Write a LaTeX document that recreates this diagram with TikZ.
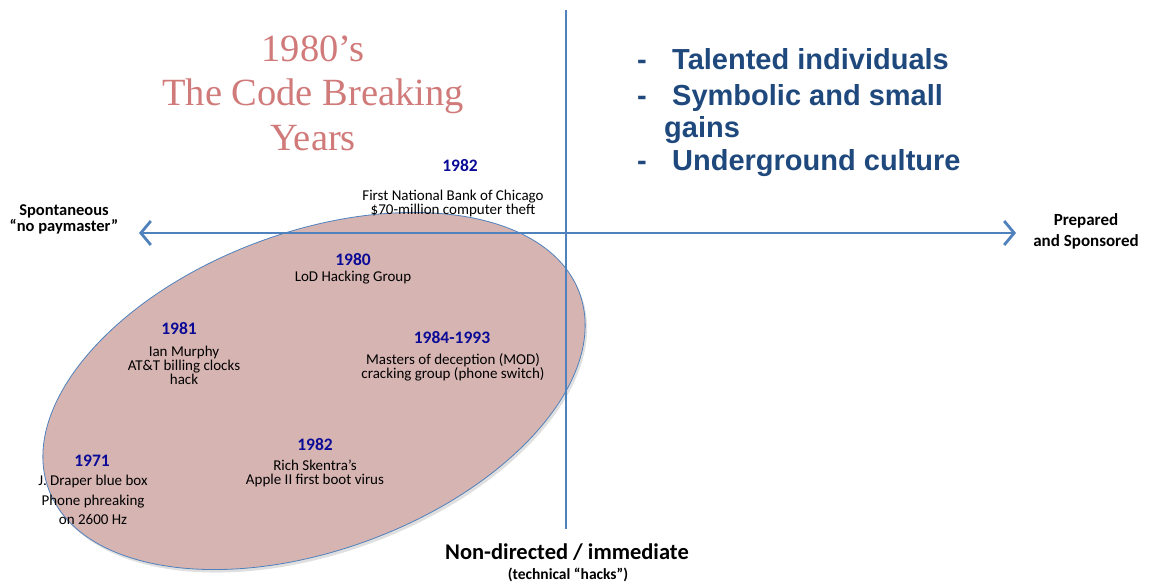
\documentclass[tikz,border=0pt]{standalone}
\usepackage{fontspec}
\setmainfont{Carlito}
\newfontfamily\titlefont{Liberation Serif}
\newfontfamily\listfont{Liberation Sans}
\usepackage{tikz}
\usetikzlibrary{shapes.geometric, arrows.meta, shadows}

\begin{document}
\begin{tikzpicture}[x=1pt, y=-1pt,
    axis/.style={line width=2.8pt, draw=axisBlue, {Straight Barb[length=10pt,width=24pt]}-{Straight Barb[length=10pt,width=24pt]}},
    year/.style={font=\bfseries\fontsize{17.5}{19}\selectfont, text=yearBlue, inner sep=0pt},
    event/.style={font=\fontsize{15}{14}\selectfont, align=center, inner sep=0pt},
    pole/.style={font=\bfseries\fontsize{17}{21}\selectfont, align=center, inner sep=0pt},
    bullet/.style={font=\listfont\bfseries\fontsize{29}{33}\selectfont, text=listBlue, anchor=base west, inner sep=0pt}]
    % colours
    \definecolor{axisBlue}{RGB}{79,129,189}
    \definecolor{eraRose}{RGB}{214,180,178}
    \definecolor{titleRose}{RGB}{208,122,122}
    \definecolor{listBlue}{RGB}{31,73,125}
    \definecolor{yearBlue}{RGB}{10,10,150}

    \useasboundingbox (0,0) rectangle (1159,586);

    % era ellipse (under the axes)
    \node[ellipse, draw=axisBlue, line width=0.8pt, fill=eraRose,
          minimum width=566pt, minimum height=318pt, rotate=20.3,
          drop shadow={opacity=0.25, shadow xshift=2pt, shadow yshift=-3pt}] (era) at (314,391) {};

    % axes
    \coordinate (top) at (566,10);
    \coordinate (bottom) at (566,529);
    \coordinate (left) at (139,233);
    \coordinate (right) at (1016,233);
    \draw[axis, {-}] (top) -- (bottom);
    \draw[axis] (left) -- (right);

    % title
    \node[font=\titlefont\fontsize{38.5}{44.5}\selectfont, text=titleRose, align=center] (title) at (313,93)
        {1980’s\\The Code Breaking\\Years};

    % features
    \node[bullet] (dashA) at (637,70) {-};
    \node[bullet] (featA) at (672,70) {Talented individuals};
    \node[bullet] (dashB) at (637,105) {-};
    \node[bullet] (featB) at (672,105) {Symbolic and small};
    \node[bullet] (featC) at (664,137) {gains};
    \node[bullet] (dashD) at (637,170) {-};
    \node[bullet] (featD) at (672,170) {Underground culture};

    % poles
    \node[pole, font=\bfseries\fontsize{16.5}{11}\selectfont] (spont) at (64,219) {Spontaneous\\\textquotedblleft no paymaster\textquotedblright};
    \node[pole] (prep) at (1086,231) {Prepared\\and Sponsored};
    \node[font=\bfseries\fontsize{22.5}{24}\selectfont, inner sep=0pt] (nondir) at (567,552) {Non-directed / immediate};
    \node[font=\bfseries\fontsize{15.5}{16}\selectfont, inner sep=0pt] (hacks) at (568,575) {(technical \textquotedblleft hacks\textquotedblright)};

    % events
    \node[year] (y1982a) at (460,166) {1982};
    \node[event] (chicago) at (453,203) {First National Bank of Chicago\\\$70-million computer theft};
    \node[year] (y1980) at (353,260) {1980};
    \node[event] (lod) at (353,278) {LoD Hacking Group};
    \node[year] (y1981) at (179,329) {1981};
    \node[event] (murphy) at (184,365) {Ian Murphy\\AT\&T billing clocks\\hack};
    \node[year] (y1984) at (452,338) {1984-1993};
    \node[event] (mod) at (453,367) {Masters of deception (MOD)\\cracking group (phone switch)};
    \node[year] (y1982b) at (315,445) {1982};
    \node[event] (skrenta) at (315,473) {Rich Skentra’s\\Apple II first boot virus};
    \node[year] (y1971) at (92,461) {1971};
    \node[event, font=\fontsize{15}{19.5}\selectfont] (draper) at (93,500) {J. Draper blue box\\Phone phreaking\\on 2600 Hz};
\end{tikzpicture}
\end{document}
